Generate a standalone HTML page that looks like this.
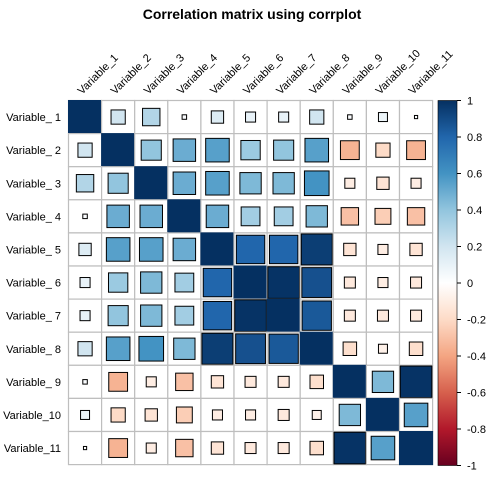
<!DOCTYPE html>
<html><head><meta charset="utf-8"><style>
body{margin:0;background:#fff;}
svg{display:block;font-family:"Liberation Sans",Arial,sans-serif;}
</style></head><body>
<svg id="c" width="504" height="504" viewBox="0 0 504 504">
<text x="252" y="19" text-anchor="middle" font-size="14" font-weight="bold">Correlation matrix using corrplot</text>
<g id="cells"></g><g id="labels"></g><g id="cbar"></g>
</svg>
<script>
const varNames = ["Variable_1","Variable_2","Variable_3","Variable_4","Variable_5","Variable_6","Variable_7","Variable_8","Variable_9","Variable_10","Variable_11"];
const rowLabels = ["Variable_ 1","Variable_ 2","Variable_ 3","Variable_ 4","Variable_ 5","Variable_ 6","Variable_ 7","Variable_ 8","Variable_ 9","Variable_10","Variable_11"];
const upper = [
 [0.2,0.3,0.02,0.15,0.1,0.1,0.2,0.02,0.08,0.01],
 [0.4,0.5,0.55,0.37,0.4,0.55,-0.35,-0.2,-0.35],
 [0.5,0.55,0.45,0.45,0.6,-0.1,-0.15,-0.1],
 [0.5,0.35,0.35,0.45,-0.3,-0.25,-0.3],
 [0.8,0.8,0.95,-0.15,-0.1,-0.15],
 [0.99,0.88,-0.12,-0.1,-0.12],
 [0.85,-0.12,-0.12,-0.12],
 [-0.18,-0.08,-0.18],
 [0.45,0.99],
 [0.55]
];
const cbTicks = [1,0.8,0.6,0.4,0.2,0,-0.2,-0.4,-0.6,-0.8,-1];
const pal = ["#67001F","#B2182B","#D6604D","#F4A582","#FDDBC7","#FFFFFF","#D1E5F0","#92C5DE","#4393C3","#2166AC","#053061"];
const NS="http://www.w3.org/2000/svg";
const X0=68.5,Y0=100.5,CW=33.1,n=varNames.length;
function col(r){const t=(r+1)/2*(pal.length-1);const i=Math.min(Math.floor(t),pal.length-2),f=t-i;
 const a=pal[i],b=pal[i+1];const h=(s,k)=>parseInt(s.substr(1+2*k,2),16);
 return "rgb("+[0,1,2].map(k=>Math.round(h(a,k)+(h(b,k)-h(a,k))*f)).join(",")+")";}
function val(i,j){if(i===j)return 1;const a=Math.min(i,j),b=Math.max(i,j);return upper[a][b-a-1];}
function mk(t,at,p){const e=document.createElementNS(NS,t);for(const k in at)e.setAttribute(k,at[k]);p.appendChild(e);return e;}
const cells=document.getElementById('cells'),labels=document.getElementById('labels'),cbar=document.getElementById('cbar');
for(let i=0;i<n;i++)for(let j=0;j<n;j++){
 const r=val(i,j);const x=X0+j*CW,y=Y0+i*CW;
 const bg=mk('rect',{x:x,y:y,width:CW,height:CW,fill:'#fff',stroke:'#bebebe','stroke-width':1.2},cells);
 
 
 const s=Math.sqrt(Math.abs(r))*CW*(i===j?1:0.96);
 const sq=mk('rect',{x:x+(CW-s)/2,y:y+(CW-s)/2,width:s,height:s,fill:col(r),stroke:i===j?col(r):'#000','stroke-width':1},cells);
 
 
}
for(let i=0;i<n;i++){
 const t=mk('text',{x:61,y:Y0+i*CW+CW/2+4,'text-anchor':'end','font-size':11},labels);t.textContent=rowLabels[i];
 
 
 const cx=X0+i*CW+CW/2-3,cy=95;
 const u=mk('text',{x:cx,y:cy,'font-size':11,transform:'rotate(-45 '+cx+' '+cy+')'},labels);u.textContent=varNames[i];
 
 
}
const CBX=438,CBT=100.5,CBB=465.5;
const defs=mk('defs',{},cbar);const g=mk('linearGradient',{id:'gr',x1:0,y1:0,x2:0,y2:1},defs);
pal.slice().reverse().forEach((c,k)=>mk('stop',{offset:k/(pal.length-1),'stop-color':c},g));
const bar=mk('rect',{x:CBX,y:CBT,width:19,height:CBB-CBT,fill:'url(#gr)',stroke:'#000','stroke-width':0.6},cbar);


cbTicks.forEach(v=>{const y=CBT+(1-v)/2*(CBB-CBT);
 mk('line',{x1:CBX+19,x2:CBX+23,y1:y,y2:y,stroke:'#000','stroke-width':1},cbar);
 const t=mk('text',{x:467,y:y+4,'font-size':11},cbar);t.textContent=String(v);
 
 
});
</script>
</body></html>
